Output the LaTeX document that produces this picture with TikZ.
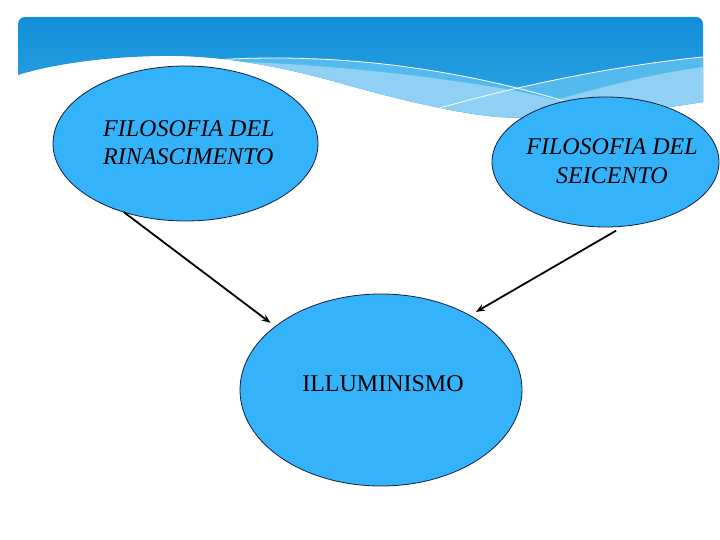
\documentclass[tikz,border=0pt]{standalone}
\usepackage{fontspec}
\setmainfont{Liberation Serif}
\usetikzlibrary{shapes.geometric,arrows.meta}
\definecolor{bubble}{RGB}{52,179,250}
\definecolor{bandtop}{RGB}{18,142,216}
\definecolor{bandbot}{RGB}{48,166,230}
\definecolor{bandmid}{RGB}{84,186,238}
\definecolor{bandlight}{RGB}{143,208,244}
\definecolor{outline}{RGB}{20,30,70}
\tikzset{
  bubblenode/.style={ellipse, fill=bubble, draw=outline, line width=0.8pt, inner sep=0pt, outer sep=0pt},
  bubbletext/.style={inner sep=0pt, font=\fontsize{24}{28.5}\selectfont},
  linkarrow/.style={line width=1.8pt, -{Stealth[length=9pt,width=7pt]}},
  waveline/.style={white, line width=0.8pt}
}
\begin{document}
\begin{tikzpicture}[x=1pt,y=-1pt]
\useasboundingbox (0,0) rectangle (720,540);
% banner
\def\bannerpath{(18,75) [rounded corners=7pt] -- (18,17) -- (703,17) [sharp corners] -- (703,102)
  .. controls (640,112) and (560,120) .. (500,117)
  .. controls (460,114) and (400,100) .. (340,83)
  .. controls (280,66) and (220,55) .. (160,56)
  .. controls (100,57) and (50,65) .. (18,75) -- cycle}
\shade[top color=bandtop, bottom color=bandbot] \bannerpath;
\begin{scope}
  \clip \bannerpath;
  \fill[bandmid] (200,61) .. controls (260,56) and (330,57) .. (400,66)
     .. controls (460,74) and (530,88) .. (600,113) -- (600,140) -- (200,140) -- cycle;
  \fill[bandmid] (440,108) .. controls (520,85) and (620,65) .. (703,57) -- (703,140) -- (440,140) -- cycle;
  \fill[bandlight] (205,62) .. controls (260,61) and (330,66) .. (400,74)
     .. controls (460,81) and (520,90) .. (555,100)
     .. controls (600,88) and (650,74) .. (703,67) -- (703,140) -- (205,140) -- cycle;
  \draw[waveline] (200,61) .. controls (260,56) and (330,57) .. (400,66)
     .. controls (460,74) and (530,88) .. (600,113);
  \draw[waveline] (440,108) .. controls (520,85) and (620,65) .. (703,57);
\end{scope}
% ellipses
\node[bubblenode, minimum width=265pt, minimum height=155pt] (L) at (185.5,143.5) {};
\node[bubblenode, minimum width=227pt, minimum height=130pt] (R) at (605.5,162) {};
\node[bubblenode, minimum width=282pt, minimum height=192pt] (C) at (381,390) {};
% texts
\node[bubbletext, anchor=west, align=left] (Lt) at (103,142.5)
  {\itshape FILOSOFIA DEL\\\itshape RINASCIMENTO};
\node[bubbletext, align=center] (Rt) at (612,161)
  {\itshape FILOSOFIA DEL\\\itshape SEICENTO};
\node[bubbletext] (Ct) at (383,384) {ILLUMINISMO};
% arrows
\draw[linkarrow, shorten >=6pt] (L.228) -- (C.149);
\draw[linkarrow, shorten <=9pt, shorten >=7pt] (R.286) -- (C.40);
\end{tikzpicture}
\end{document}
